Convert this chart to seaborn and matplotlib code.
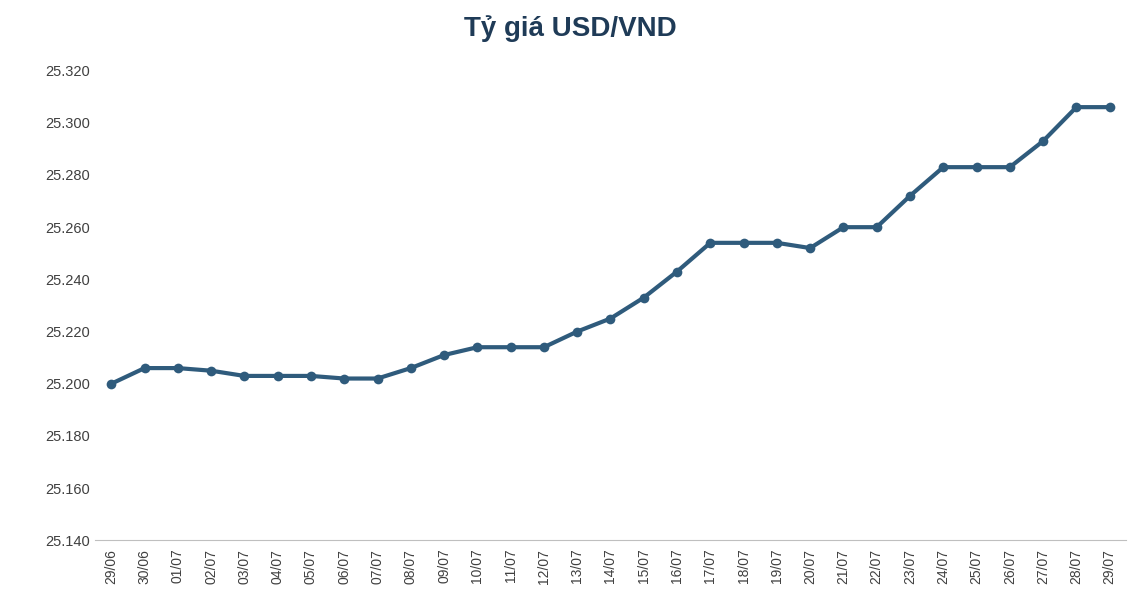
import matplotlib
matplotlib.use('Agg')
import matplotlib.pyplot as plt
import matplotlib.ticker as mticker
import seaborn as sns
import pandas as pd

dates = ['29/06', '30/06'] + [f'{d:02d}/07' for d in range(1, 30)]
rates = [25.200, 25.206, 25.206, 25.205, 25.203, 25.203, 25.203, 25.202, 25.202,
         25.206, 25.211, 25.214, 25.214, 25.214, 25.220, 25.225, 25.233, 25.243,
         25.254, 25.254, 25.254, 25.252, 25.260, 25.260, 25.272, 25.283, 25.283,
         25.283, 25.293, 25.306, 25.306]

df = pd.DataFrame({'x': range(len(dates)), 'rate': rates})

sns.set_style('white')
plt.rcParams['font.family'] = ['Liberation Sans', 'DejaVu Sans']

fig, ax = plt.subplots(figsize=(11.4, 6.14), dpi=100)
fig.subplots_adjust(left=0.083, right=0.988, top=0.885, bottom=0.12)

color = '#2F5B7C'
sns.lineplot(data=df, x='x', y='rate', ax=ax, color=color, linewidth=3,
             marker='o', markersize=7, markeredgewidth=0)

ax.set_xlim(-0.5, len(dates) - 0.5)
ax.set_ylim(25.140, 25.320)
ax.yaxis.set_major_locator(mticker.MultipleLocator(0.020))
ax.yaxis.set_major_formatter(mticker.FuncFormatter(lambda v, p: f'{v:.3f}'))
ax.set_xticks(range(len(dates)))
ax.set_xticklabels(dates, rotation=90, fontsize=10, color='#404040')
ax.tick_params(axis='x', length=0, pad=6)
ax.set_xticks([i - 0.5 for i in range(len(dates) + 1)], minor=True)
ax.tick_params(axis='x', which='minor', length=5, color='#BFBFBF')
ax.tick_params(axis='y', length=0, labelsize=10.5, labelcolor='#404040')
ax.set_xlabel('')
ax.set_ylabel('')
for s in ['top', 'right', 'left']:
    ax.spines[s].set_visible(False)
ax.spines['bottom'].set_color('#BFBFBF')

fig.suptitle('Tỷ giá USD/VND', fontsize=20, fontweight='bold', color='#1F3B57',
             x=0.5, y=0.975)

fig.savefig('out.png', dpi=100)
